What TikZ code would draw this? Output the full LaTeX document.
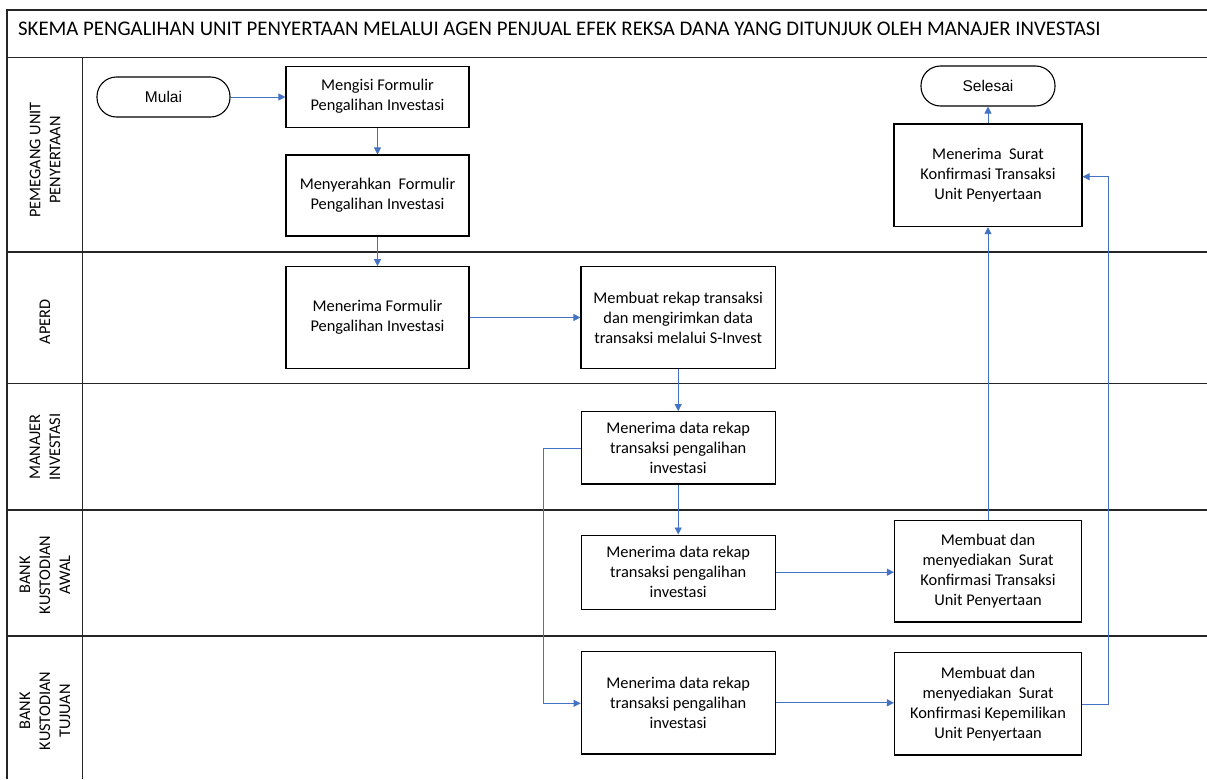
\documentclass[tikz,border=0pt]{standalone}
\usepackage{fontspec}
\setmainfont{Carlito}
\newfontfamily\arialfont{Liberation Sans}
\usetikzlibrary{arrows.meta,calc}
\begin{document}
\begin{tikzpicture}[x=1pt,y=-1pt,
  lane/.style={line width=1.4pt, draw=black!85},
  proc/.style={draw=black, line width=1.1pt, fill=white, align=center, inner sep=2pt,
     font=\fontsize{16.4}{20}\selectfont},
  term/.style={draw=black, line width=1.1pt, rounded corners=19.5pt, fill=white, inner sep=0pt,
     font=\arialfont\fontsize{15.5}{18}\selectfont, minimum width=133pt, minimum height=40pt},
  lanelabel/.style={rotate=90, align=center, font=\fontsize{16.3}{20}\selectfont, inner sep=0pt},
  flow/.style={draw={rgb,255:red,68;green,114;blue,196}, line width=0.9pt,
     -{Triangle[length=7pt,width=7pt]}}
]
\useasboundingbox (0,0) rectangle (1207,779);
% frame
\draw[lane] (1207,10) -- (7,10) -- (7,779);
\draw[lane] (7,57.5) -- (1207,57.5);
\draw[lane] (82.5,57.5) -- (82.5,779);
\draw[lane] (7,252) -- (1207,252);
\draw[lane] (7,383.5) -- (1207,383.5);
\draw[lane] (7,510) -- (1207,510);
\draw[lane] (7,636) -- (1207,636);
% title
\node[anchor=west, inner sep=0pt, font=\fontsize{20.8}{24}\selectfont] (title) at (18,29)
  {SKEMA PENGALIHAN UNIT PENYERTAAN MELALUI AGEN PENJUAL EFEK REKSA DANA YANG DITUNJUK OLEH MANAJER INVESTASI};
% lane labels
\node[lanelabel] (l1) at (45,160) {PEMEGANG UNIT\\PENYERTAAN};
\node[lanelabel] (l2) at (45,322) {APERD};
\node[lanelabel] (l3) at (45,447) {MANAJER\\INVESTASI};
\node[lanelabel] (l4) at (45,575) {BANK\\KUSTODIAN\\AWAL};
\node[lanelabel] (l5) at (45,711) {BANK\\KUSTODIAN\\TUJUAN};
% nodes
\node[term] (mulai) at (163.5,97) {Mulai};
\node[term, minimum width=134pt] (selesai) at (988,86) {Selesai};
\node[proc, minimum width=183pt, minimum height=61.3pt] (mengisi) at (377.5,96.7) {Mengisi Formulir\\Pengalihan Investasi};
\node[proc, minimum width=183pt, minimum height=81pt] (serah) at (377.5,195.5) {Menyerahkan\ \ Formulir\\Pengalihan Investasi};
\node[proc, minimum width=183pt, minimum height=101.6pt] (terima) at (377.5,317.5) {Menerima Formulir\\Pengalihan Investasi};
\node[proc, minimum width=194.5pt, minimum height=101.6pt] (rekap) at (678.2,317.5) {Membuat rekap transaksi\\dan mengirimkan data\\transaksi melalui S-Invest};
\node[proc, minimum width=194pt, minimum height=72.3pt] (mi) at (678.2,447.8) {Menerima data rekap\\transaksi pengalihan\\investasi};
\node[proc, minimum width=194pt, minimum height=74.3pt] (bka1) at (678.2,572.2) {Menerima data rekap\\transaksi pengalihan\\investasi};
\node[proc, minimum width=187pt, minimum height=101.3pt] (bka2) at (988,571.3) {Membuat dan\\menyediakan\ \ Surat\\Konfirmasi Transaksi\\Unit Penyertaan};
\node[proc, minimum width=194pt, minimum height=102.3pt] (bkt1) at (678.2,702.8) {Menerima data rekap\\transaksi pengalihan\\investasi};
\node[proc, minimum width=187pt, minimum height=102.3pt] (bkt2) at (988,703.8) {Membuat dan\\menyediakan\ \ Surat\\Konfirmasi Kepemilikan\\Unit Penyertaan};
\node[proc, minimum width=188pt, minimum height=102.7pt] (surat) at (988,175.3) {Menerima\ \ Surat\\Konfirmasi Transaksi\\Unit Penyertaan};
\coordinate (c1) at (543.5,448.3);
\coordinate (c2) at (543.5,703.3);
\coordinate (c3) at (1108.5,704);
\coordinate (c4) at (1108.5,176.7);
% connectors
\draw[flow] (mulai.east) -- (mulai.east -| mengisi.west);
\draw[flow] (mengisi) -- (serah);
\draw[flow] (serah) -- (terima);
\draw[flow] (terima) -- (rekap);
\draw[flow] (rekap) -- (mi);
\draw[flow] (mi) -- (bka1);
\draw[flow] (bka1.east) -- (bka1.east -| bka2.west);
\draw[flow] (bkt1.east) -- (bkt1.east -| bkt2.west);
\draw[flow] (mi.west |- c1) -- (c1) -- (c2) -- (c2 -| bkt1.west);
\draw[flow] (c3 -| bkt2.east) -- (c3) -- (c4) -- (c4 -| surat.east);
\draw[flow] (bka2) -- (surat);
\draw[flow] (surat) -- (selesai);
\end{tikzpicture}
\end{document}
